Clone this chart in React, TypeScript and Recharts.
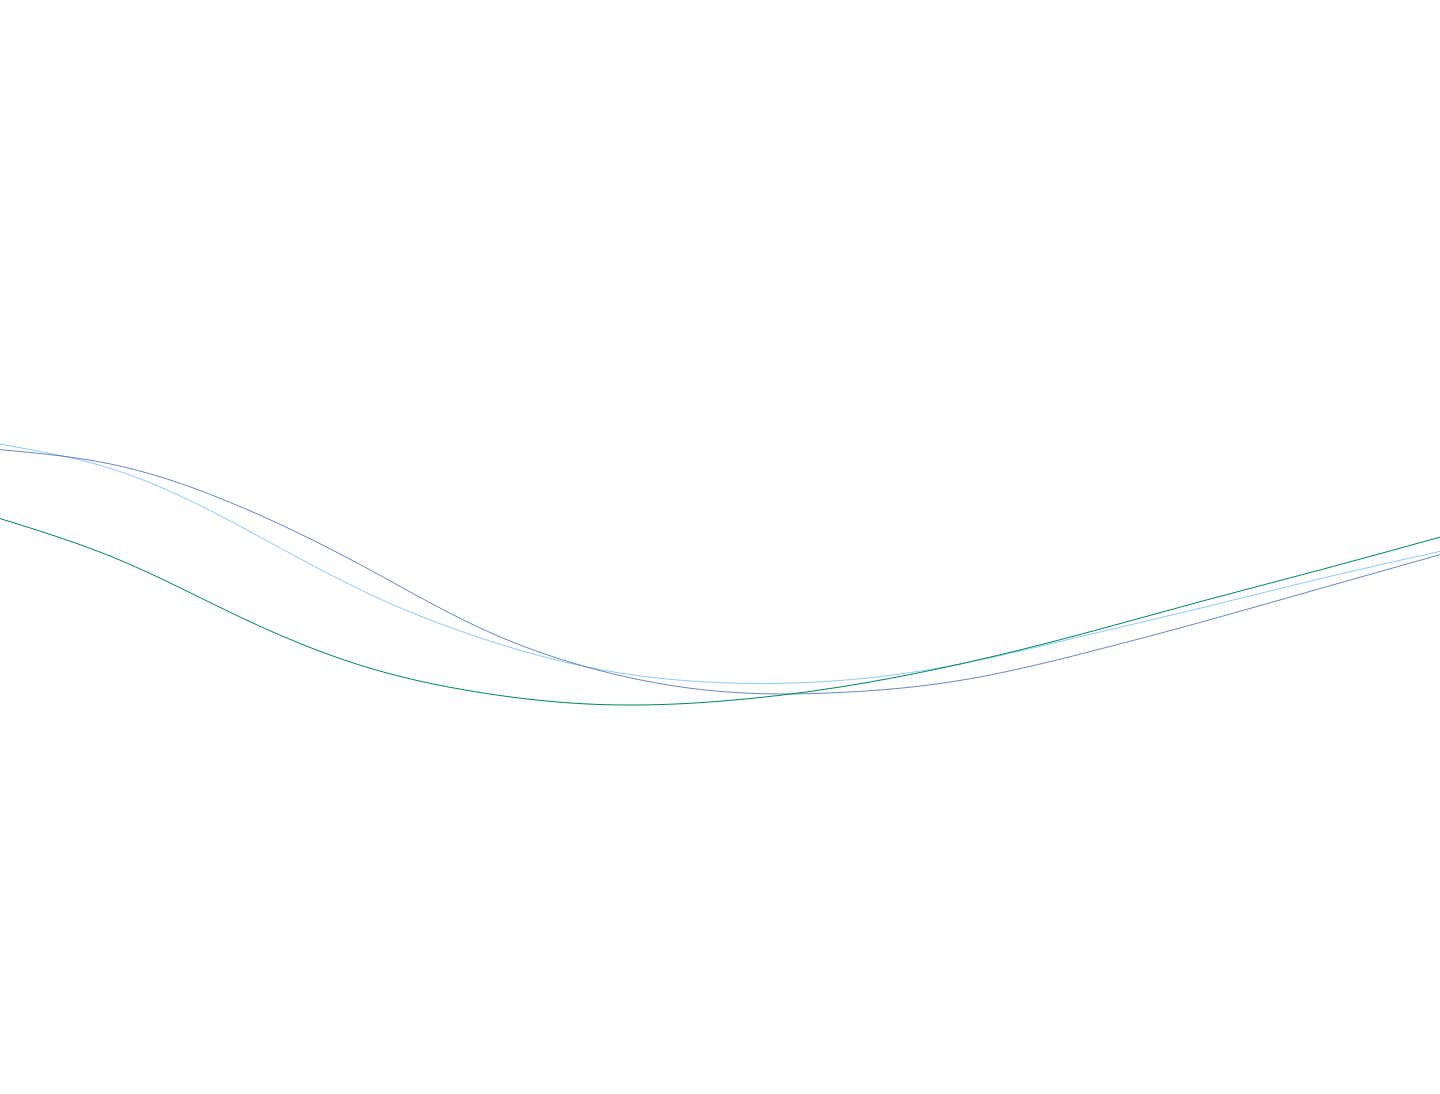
import React from "react";
import { LineChart, Line, XAxis, YAxis } from "recharts";

const steps = ["0", "1", "2", "3", "4", "5", "6", "7", "8", "9", "10", "11", "12"];
const lightBlue = [59.4, 56.9, 51.9, 46.1, 41.7, 38.8, 37.6, 37.8, 39.3, 41.8, 44.4, 47.1, 49.6];
const darkBlue = [58.9, 57.4, 53.7, 48.4, 42.6, 38.7, 36.8, 36.7, 37.8, 40.2, 43.1, 46.2, 49.3];
const green = [52.6, 48.8, 43.6, 39.2, 36.7, 35.6, 35.9, 37.2, 39.3, 42.0, 45.0, 47.9, 50.9];

const data = steps.map((s, i) => ({
  step: s,
  lightBlue: lightBlue[i],
  darkBlue: darkBlue[i],
  green: green[i],
}));

export default function App() {
  return (
    <div
      style={{
        position: "absolute",
        left: 0,
        top: 0,
        width: 1440,
        height: 1094,
        background: "#fff",
      }}
    >
      <LineChart
        width={1440}
        height={1094}
        data={data}
        margin={{ top: 0, right: 0, left: 0, bottom: 0 }}
      >
        <XAxis dataKey="step" hide padding={{ left: 0, right: 0 }} />
        <YAxis hide domain={[0, 100]} width={0} />
        <Line
          type="natural"
          dataKey="lightBlue"
          stroke="#90caf9"
          strokeWidth={1}
          dot={false}
          activeDot={false}
          isAnimationActive={false}
        />
        <Line
          type="natural"
          dataKey="darkBlue"
          stroke="#4169b0"
          strokeWidth={0.8}
          dot={false}
          activeDot={false}
          isAnimationActive={false}
        />
        <Line
          type="natural"
          dataKey="green"
          stroke="#00875a"
          strokeWidth={1}
          dot={false}
          activeDot={false}
          isAnimationActive={false}
        />
      </LineChart>
    </div>
  );
}
